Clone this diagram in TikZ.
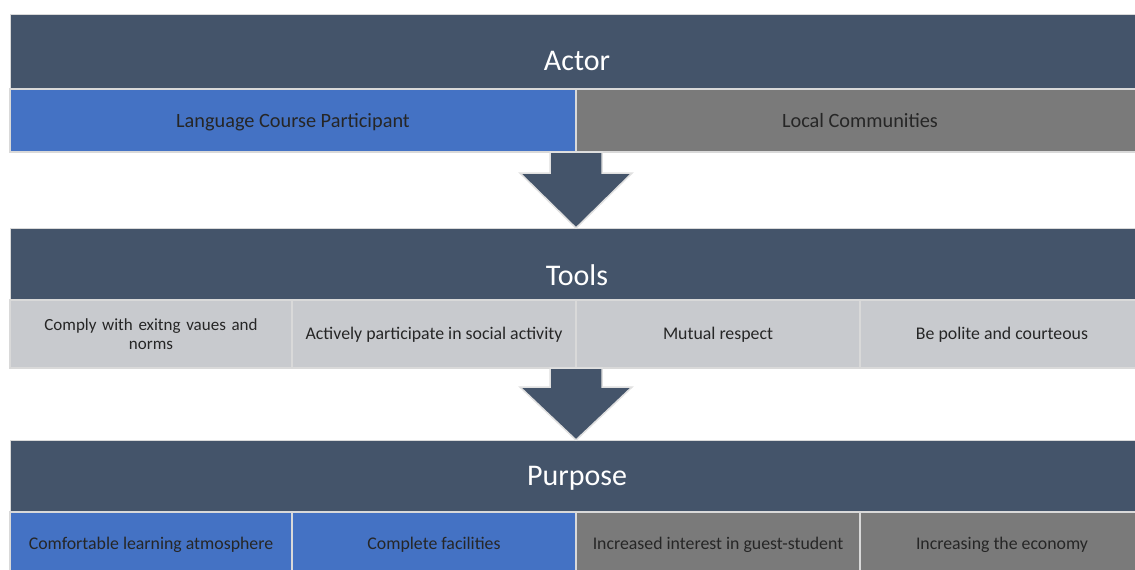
\documentclass[tikz,border=0pt]{standalone}
\usepackage{fontspec}
\setmainfont{Carlito}
\usetikzlibrary{positioning}

\definecolor{slate}{HTML}{44546A}
\definecolor{courseblue}{HTML}{4472C4}
\definecolor{midgray}{HTML}{7A7A7A}
\definecolor{toolgray}{HTML}{C8CACE}

\newcommand*{\headfont}{\fontsize{30}{34}\selectfont}
\newcommand*{\cellfont}{\fontsize{17.8}{19}\selectfont}
\newcommand*{\bigcellfont}{\fontsize{20.3}{23}\selectfont}
\newcommand*{\cellw}{284pt}

\begin{document}
\begin{tikzpicture}
[
	x=1pt, y=-1pt,
	header/.style={fill=slate, draw=white!85!black, line width=1pt, inner sep=0pt, outer sep=0pt,
		minimum width=1134pt, minimum height=#1, anchor=north west, text=white, font=\headfont},
	lowtext/.style={text height=#1, text depth=0pt},
	cell/.style={draw=white!85!black, line width=1.2pt, inner sep=0pt, outer sep=0pt,
		minimum width=\cellw, minimum height=#1, text=black!85, font=\cellfont, lowtext=11.5pt},
	bigcell/.style={cell=#1, font=\bigcellfont, lowtext=13pt},
	blockarrow/.style={fill=slate, draw=white!88!black, line width=1.5pt, line join=miter}
]

	% page
	\fill[white] (0,0) rectangle (1135,570);
	\useasboundingbox (0,0) rectangle (1135,570);

	% actor
	\node[header=75pt, lowtext=38pt] at (10,14) (actor) {Actor};
	\node[bigcell=63pt, fill=courseblue, minimum width=566pt, anchor=north west] at (actor.south west) (participant) {Language Course Participant};
	\node[bigcell=63pt, fill=midgray, minimum width=568pt, right=0pt of participant] (communities) {Local Communities};

	% tools
	\node[header=72pt, lowtext=42pt] at (10,228) (tools) {Tools};
	\node[draw=white!85!black, line width=1.2pt, inner sep=0pt, outer sep=0pt, minimum height=68pt, text=black!85,
		font=\fontsize{17}{19}\selectfont, fill=toolgray, minimum width=282pt, anchor=north west, text width=270pt, align=center]
		at (tools.south west) (comply) {Comply with exitng vaues and\\ norms};
	\node[cell=68pt, fill=toolgray, right=0pt of comply] (active) {Actively participate in social activity};
	\node[cell=68pt, fill=toolgray, right=0pt of active] (respect) {Mutual respect};
	\node[cell=68pt, fill=toolgray, right=0pt of respect] (polite) {Be polite and courteous};

	% purpose
	\node[header=72pt, lowtext=18pt] at (10,440) (purpose) {Purpose};
	\node[cell=64pt, fill=courseblue, minimum width=282pt, anchor=north west] at (purpose.south west) (comfort) {Comfortable learning atmosphere};
	\node[cell=64pt, fill=courseblue, right=0pt of comfort] (facilities) {Complete facilities};
	\node[cell=64pt, fill=midgray, right=0pt of facilities] (interest) {Increased interest in guest-student};
	\node[cell=64pt, fill=midgray, right=0pt of interest] (economy) {Increasing the economy};

	% arrows between the rows
	\draw[blockarrow] ([xshift=-26pt]participant.south east) -- ++(52,0) -- ++(0,21) -- ++(30,0)
		-- (participant.south east |- tools.north) -- ++(-56,-55) -- ++(30,0) -- cycle;
	\draw[blockarrow] ([xshift=-26pt]active.south east) -- ++(52,0) -- ++(0,19) -- ++(30,0)
		-- (active.south east |- purpose.north) -- ++(-56,-53) -- ++(30,0) -- cycle;

\end{tikzpicture}
\end{document}
